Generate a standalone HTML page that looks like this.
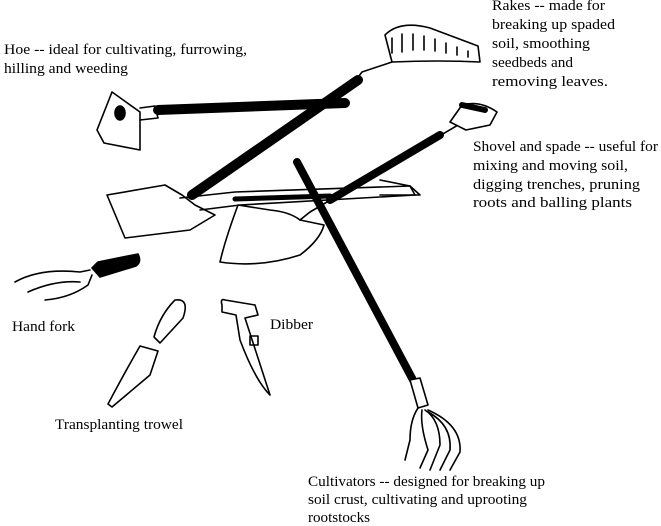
<!DOCTYPE html>
<html><head><style>
body{margin:0;background:#fff;}
svg{display:block}
text{font-family:"Liberation Serif",serif;font-size:15px;fill:#000}
</style></head><body>
<svg width="661" height="526" viewBox="0 0 661 526" xmlns="http://www.w3.org/2000/svg">
<g fill="none" stroke="#000" stroke-width="1.6" stroke-linejoin="round" stroke-linecap="round">
<!-- hoe -->
<path d="M112 92 L140 112 L140 150 L104 143 L97 130 Z" fill="#fff"/>
<ellipse cx="120" cy="113" rx="5" ry="7" fill="#000"/>
<path d="M140 108 L155 106 L158 118 L140 120"/>
<line x1="158" y1="110" x2="345" y2="103" stroke-width="10"/>
<!-- rake -->
<path d="M385 35 Q400 20 430 28 L478 46 L480 62 Q440 60 392 62 Z" fill="#fff"/>
<path d="M392 38 v15 M402 34 v18 M413 34 v16 M424 36 v14 M435 39 v12 M446 43 v10 M457 47 v8 M468 51 v6"/>
<path d="M392 62 L362 72 L356 80"/>
<line x1="358" y1="80" x2="192" y2="195" stroke-width="10"/>
<!-- shovel -->
<path d="M107 195 L165 185 L182 195 L195 205 L215 215 L190 230 L125 238 Z" fill="#fff"/>
<path d="M180 198 L235 192 L410 186 L415 195 L240 205 L200 210"/>
<line x1="235" y1="199" x2="330" y2="196" stroke-width="5"/>
<path d="M380 180 L410 186 L420 195 L380 195"/>
<!-- spade -->
<path d="M238 205 Q225 240 220 262 Q260 268 300 255 Q320 240 324 225 L300 220 Q290 212 270 210 Z" fill="#fff"/>
<path d="M300 220 L310 212 L470 118"/>
<line x1="330" y1="200" x2="440" y2="135" stroke-width="8"/>
<path d="M450 122 L462 105 Q480 100 497 112 L490 125 L466 130 Z" fill="#fff"/>
<line x1="462" y1="105" x2="485" y2="110" stroke-width="6"/>
<!-- cultivator -->
<line x1="297" y1="162" x2="413" y2="380" stroke-width="8"/>
<path d="M410 380 L420 378 L428 405 L418 408 Z" fill="#fff"/>
<path d="M418 408 Q410 420 410 440 L405 460 M422 410 Q420 425 428 450 L420 468 M425 410 Q440 420 440 445 L430 470 M428 412 Q452 425 450 450 L440 470 M428 410 Q462 425 460 452 L450 470"/>
<!-- hand fork -->
<path d="M15 282 Q40 268 80 272 L90 270 M28 292 Q55 280 80 282 M45 300 Q70 298 88 285 L92 275"/>
<path d="M92 268 L98 262 L138 254 Q142 262 136 266 L100 277 Z" fill="#000"/>
<!-- trowel -->
<path d="M175 300 Q190 298 183 318 L160 343 L154 337 Q160 315 175 300 Z" fill="#fff"/>
<path d="M140 346 L158 351 L150 375 L112 407 L108 404 Q125 372 140 346 Z" fill="#fff"/>
<!-- dibber -->
<path d="M222 305 Q220 298 225 300 L255 305 L258 315 L245 318 Q252 340 270 395 Q255 380 240 340 L236 315 L222 312 Z" fill="#fff"/>
<rect x="250" y="336" width="8" height="9"/>
</g>
<g lengthAdjust="spacingAndGlyphs">
<text x="492" y="10" textLength="113" lengthAdjust="spacingAndGlyphs">Rakes -- made for</text>
<text x="492" y="29" textLength="123" lengthAdjust="spacingAndGlyphs">breaking up spaded</text>
<text x="492" y="48" textLength="98" lengthAdjust="spacingAndGlyphs">soil, smoothing</text>
<text x="492" y="67" textLength="81" lengthAdjust="spacingAndGlyphs">seedbeds and</text>
<text x="492" y="86" textLength="116" lengthAdjust="spacingAndGlyphs">removing leaves.</text>
<text x="4" y="54" textLength="243" lengthAdjust="spacingAndGlyphs">Hoe -- ideal for cultivating, furrowing,</text>
<text x="4" y="73" textLength="124" lengthAdjust="spacingAndGlyphs">hilling and weeding</text>
<text x="473" y="151" textLength="185" lengthAdjust="spacingAndGlyphs">Shovel and spade -- useful for</text>
<text x="473" y="170" textLength="155" lengthAdjust="spacingAndGlyphs">mixing and moving soil,</text>
<text x="473" y="189" textLength="167" lengthAdjust="spacingAndGlyphs">digging trenches, pruning</text>
<text x="473" y="207" textLength="159" lengthAdjust="spacingAndGlyphs">roots and balling plants</text>
<text x="12" y="331" textLength="63" lengthAdjust="spacingAndGlyphs">Hand fork</text>
<text x="270" y="329" textLength="43" lengthAdjust="spacingAndGlyphs">Dibber</text>
<text x="55" y="429" textLength="128" lengthAdjust="spacingAndGlyphs">Transplanting trowel</text>
<text x="308" y="486" textLength="237" lengthAdjust="spacingAndGlyphs">Cultivators -- designed for breaking up</text>
<text x="308" y="504" textLength="219" lengthAdjust="spacingAndGlyphs">soil crust, cultivating and uprooting</text>
<text x="308" y="522" textLength="62" lengthAdjust="spacingAndGlyphs">rootstocks</text>
</g>
</svg>
</body></html>
